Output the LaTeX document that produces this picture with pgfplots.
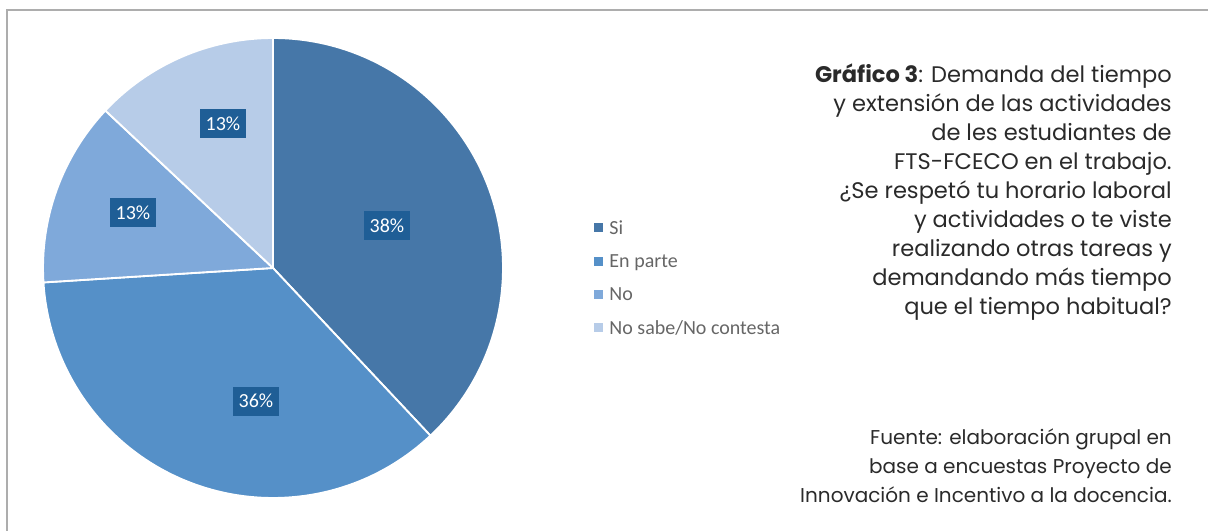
\documentclass[border=0pt]{standalone}
\usepackage{pgfplots}
\pgfplotsset{compat=1.18}
\usepackage{pgfplotstable}
\usepackage{fontspec}
\setmainfont{Carlito}
\newfontfamily\titlefont{Poppins}

\definecolor{cSi}{HTML}{4677A8}
\definecolor{cParte}{HTML}{5590C8}
\definecolor{cNo}{HTML}{7FA9DA}
\definecolor{cNs}{HTML}{B7CCE8}
\definecolor{boxblue}{HTML}{1F5E96}
\definecolor{legtext}{HTML}{666666}
\definecolor{frame}{HTML}{ADADAD}
\definecolor{txt}{HTML}{2A2A2A}

% share (%), slice colour, label position (px)
\pgfplotstableread{
label value col lx ly
Si 38 cSi 387 226
{En parte} 36 cParte 256 401
No 13 cNo 133 213
{No sabe/No contesta} 13 cNs 223 124
}\piedata

\begin{document}
\begin{tikzpicture}
\begin{axis}[
    name=ax,
    x=0.75pt, y=0.75pt,
    xmin=0, xmax=1208, ymin=0, ymax=531,
    y dir=reverse,
    hide axis,
    clip=false,
    legend style={at={(axis cs:590,209)}, anchor=north west, draw=none,
        fill=none, font=\fontsize{15}{17}\selectfont, text=legtext,
        row sep=0pt, nodes={inner sep=0pt, minimum height=25pt, anchor=west},
        legend cell align=left},
    legend image code/.code={\fill[#1] (0pt,-2.2pt) rectangle (6pt,3.8pt);},
]
% frame lines of the page
\draw[frame, line width=1.3pt] (axis cs:7,531) -- (axis cs:7,10) -- (axis cs:1208,10);

% slices
\def\angA{90}
\pgfplotsforeachungrouped \i in {0,...,3}{%
  \pgfplotstablegetelem{\i}{value}\of\piedata \let\v\pgfplotsretval
  \pgfplotstablegetelem{\i}{col}\of\piedata \let\c\pgfplotsretval
  \pgfmathsetmacro\angB{\angA-3.6*\v}%
  \edef\temp{\noexpand\fill[\c, draw=white, line width=1.4pt, line join=round]
    (axis cs:273,268) -- ++(\angA:172.5pt)
    arc[start angle=\angA, end angle=\angB, radius=172.5pt] -- cycle;}%
  \temp
  \let\angA\angB
}
% percentage labels
\pgfplotsforeachungrouped \i in {0,...,3}{%
  \pgfplotstablegetelem{\i}{value}\of\piedata \let\v\pgfplotsretval
  \pgfplotstablegetelem{\i}{lx}\of\piedata \let\lx\pgfplotsretval
  \pgfplotstablegetelem{\i}{ly}\of\piedata \let\ly\pgfplotsretval
  \edef\temp{\noexpand\node[fill=boxblue, text=white, inner sep=0pt,
    minimum width=34.5pt, minimum height=21.75pt,
    font=\noexpand\fontsize{15}{16}\noexpand\selectfont]
    at (axis cs:\lx,\ly) {\v\noexpand\%};}%
  \temp
}

\addlegendimage{cSi}\addlegendentry{\,\,Si}
\addlegendimage{cParte}\addlegendentry{\,\,En parte}
\addlegendimage{cNo}\addlegendentry{\,\,No}
\addlegendimage{cNs}\addlegendentry{\,\,No sabe/No contesta}

% caption text
\node[anchor=north east, align=right, inner sep=0pt, text=txt,
  font=\titlefont\fontsize{16.9}{21.75}\selectfont] at (axis cs:1172,64)
  {{\bfseries Gráfico 3}: Demanda del tiempo\\
   y extensión de las actividades\\
   de les estudiantes de\\
   FTS-FCECO en el trabajo.\\
   ¿Se respetó tu horario laboral\\
   y actividades o te viste\\
   realizando otras tareas y\\
   demandando más tiempo\\
   que el tiempo habitual?};
\node[anchor=north east, align=right, inner sep=0pt, text=txt,
  font=\titlefont\fontsize{15}{21.75}\selectfont] at (axis cs:1172,428)
  {Fuente: elaboración grupal en\\
   base a encuestas Proyecto de\\
   Innovación e Incentivo a la docencia.};
\end{axis}
\pgfresetboundingbox
\path (ax.south west) rectangle (ax.north east);
\end{tikzpicture}
\end{document}
